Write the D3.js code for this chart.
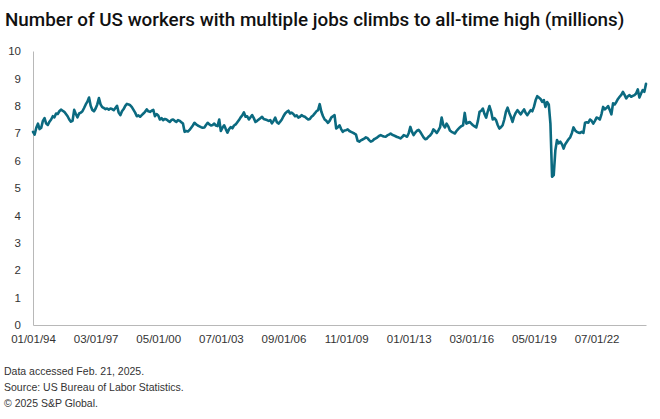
<!DOCTYPE html>
<html>
<head>
<meta charset="utf-8">
<script src="https://cdn.jsdelivr.net/npm/d3@7"></script>
<style>
  html, body { margin: 0; padding: 0; background: #fff; }
  svg { display: block; }
</style>
</head>
<body>
<svg id="chart" width="660" height="419"></svg>
<script>
// ---- Data (millions, monthly, Jan 1994 – Jan 2025) ----
const startYear = 1994;
const values1994 = [7.05, 6.95, 7.20, 7.35, 7.15, 7.20, 7.45, 7.55, 7.35, 7.30, 7.42, 7.50];
const values1995 = [7.62, 7.58, 7.72, 7.70, 7.80, 7.86, 7.82, 7.78, 7.70, 7.62, 7.50, 7.42];
const values1996 = [7.45, 7.85, 7.70, 7.58, 7.72, 7.75, 7.80, 7.92, 8.05, 8.15, 8.30, 8.00];
const values1997 = [7.85, 7.80, 7.90, 8.05, 8.28, 8.05, 7.95, 7.92, 7.88, 7.90, 7.86, 7.90];
const values1998 = [7.88, 7.84, 7.92, 8.00, 7.75, 7.66, 7.80, 7.88, 8.00, 8.07, 8.05, 8.02];
const values1999 = [7.95, 7.85, 7.75, 7.62, 7.65, 7.60, 7.66, 7.72, 7.78, 7.87, 7.80, 7.78];
const values2000 = [7.82, 7.85, 7.62, 7.70, 7.65, 7.50, 7.55, 7.48, 7.52, 7.50, 7.45, 7.41];
const values2001 = [7.48, 7.50, 7.45, 7.41, 7.48, 7.45, 7.40, 7.35, 7.05, 7.08, 7.06, 7.12];
const values2002 = [7.20, 7.28, 7.38, 7.32, 7.28, 7.25, 7.22, 7.20, 7.21, 7.30, 7.38, 7.32];
const values2003 = [7.28, 7.30, 7.35, 7.28, 7.26, 7.50, 7.08, 7.20, 7.29, 7.15, 7.02, 7.15];
const values2004 = [7.22, 7.18, 7.28, 7.32, 7.40, 7.48, 7.58, 7.65, 7.76, 7.60, 7.62, 7.50];
const values2005 = [7.58, 7.66, 7.55, 7.41, 7.45, 7.50, 7.55, 7.60, 7.52, 7.50, 7.48, 7.45];
const values2006 = [7.48, 7.36, 7.45, 7.57, 7.40, 7.35, 7.42, 7.50, 7.62, 7.72, 7.78, 7.82];
const values2007 = [7.72, 7.75, 7.70, 7.62, 7.65, 7.57, 7.60, 7.66, 7.62, 7.60, 7.55, 7.50];
const values2008 = [7.52, 7.60, 7.65, 7.72, 7.80, 7.84, 8.06, 7.78, 7.62, 7.50, 7.45, 7.38];
const values2009 = [7.45, 7.57, 7.62, 7.66, 7.17, 7.22, 7.29, 7.15, 7.05, 7.10, 7.11, 7.14];
const values2010 = [7.08, 7.05, 7.02, 6.99, 6.95, 6.72, 6.69, 6.74, 6.77, 6.80, 6.85, 6.82];
const values2011 = [6.75, 6.69, 6.72, 6.78, 6.81, 6.85, 6.90, 6.93, 6.90, 6.88, 6.87, 6.92];
const values2012 = [6.95, 6.99, 6.94, 6.92, 6.89, 6.86, 6.84, 6.81, 6.86, 6.93, 6.90, 6.87];
const values2013 = [7.00, 7.23, 7.05, 6.93, 7.02, 7.09, 7.12, 7.05, 6.95, 6.85, 6.78, 6.80];
const values2014 = [6.87, 6.92, 7.00, 7.14, 7.08, 7.01, 7.10, 7.21, 7.57, 7.30, 7.21, 7.35];
const values2015 = [7.25, 7.10, 7.05, 7.02, 6.99, 7.08, 7.15, 7.21, 7.26, 7.29, 7.74, 7.35];
const values2016 = [7.38, 7.41, 7.35, 7.29, 7.25, 7.21, 7.45, 7.78, 7.82, 7.90, 7.70, 7.57];
const values2017 = [7.80, 7.99, 7.80, 7.50, 7.55, 7.48, 7.30, 7.17, 7.22, 7.29, 7.50, 7.78];
const values2018 = [7.93, 7.75, 7.60, 7.41, 7.62, 7.75, 7.84, 7.76, 7.69, 7.78, 7.87, 7.74];
const values2019 = [7.66, 7.75, 7.84, 7.80, 7.96, 8.20, 8.35, 8.30, 8.25, 8.14, 8.21, 7.96];
const values2020 = [8.14, 8.05, 7.35, 5.41, 5.47, 6.38, 6.75, 6.63, 6.69, 6.60, 6.44, 6.60];
const values2021 = [6.69, 6.78, 6.85, 7.00, 7.21, 7.10, 7.05, 7.02, 7.01, 7.05, 7.01, 7.38];
const values2022 = [7.40, 7.38, 7.50, 7.45, 7.35, 7.45, 7.57, 7.55, 7.50, 7.70, 7.96, 7.87];
const values2023 = [7.92, 7.99, 7.85, 7.69, 8.09, 8.05, 8.14, 8.25, 8.33, 8.40, 8.51, 8.40];
const values2024 = [8.27, 8.35, 8.39, 8.33, 8.36, 8.39, 8.45, 8.60, 8.30, 8.45, 8.57, 8.51];
const values2025 = [8.80];

const yTickValues = [0, 1, 2, 3, 4, 5, 6, 7, 8, 9, 10];
const xTickLabels = ["01/01/94", "03/01/97", "05/01/00", "07/01/03", "09/01/06",
                     "11/01/09", "01/01/13", "03/01/16", "05/01/19", "07/01/22"];

const titleText = "Number of US workers with multiple jobs climbs to all-time high (millions)";
const footerLines = ["Data accessed Feb. 21, 2025.",
                     "Source: US Bureau of Labor Statistics.",
                     "\u00A9 2025 S&P Global."];

// ---- Build series ----
const allYears = [values1994, values1995, values1996, values1997, values1998, values1999,
  values2000, values2001, values2002, values2003, values2004, values2005, values2006,
  values2007, values2008, values2009, values2010, values2011, values2012, values2013,
  values2014, values2015, values2016, values2017, values2018, values2019, values2020,
  values2021, values2022, values2023, values2024, values2025];
const series = [];
allYears.forEach((arr, yi) => arr.forEach((v, m) => {
  series.push({ date: new Date(startYear + yi, m, 1), value: v });
}));
const fmt = d3.timeFormat("%m/%d/%y");

// ---- Layout ----
const svg = d3.select("#chart");
const margin = { left: 33, right: 14, top: 51, bottom: 94 };
const W = 660, H = 419;

const x = d3.scaleLinear()
  .domain([0, series.length - 1])
  .range([margin.left, W - margin.right]);
const y = d3.scaleLinear()
  .domain([0, 10])
  .range([H - margin.bottom, margin.top]);

const textColor = "#333333";
const fontFam = "'Liberation Sans', Arial, sans-serif";

// Title
const title = svg.append("text")
  .attr("x", 5).attr("y", 26)
  .attr("font-family", "Roboto, 'Liberation Sans', sans-serif")
  .attr("font-weight", 500)
  .attr("font-size", 17)
  .attr("fill", "#111")
  .text(titleText);
const tw = title.node().getComputedTextLength();
title.attr("font-size", 17 * 620 / tw);

// Y axis
const yAxis = d3.axisLeft(y).tickValues(yTickValues).tickSize(0).tickPadding(12)
  .tickFormat(d3.format("d"));
const gy = svg.append("g").attr("transform", `translate(${margin.left},0)`).call(yAxis);
gy.select(".domain").attr("stroke", "#b8b8b8").attr("stroke-width", 1);
gy.selectAll("text").attr("font-family", fontFam).attr("font-size", 11.5).attr("fill", textColor);

// X axis: category ticks every 38 months, labels from data dates
const tickIdx = d3.range(0, series.length, 38);
const labelSet = new Set(xTickLabels);
const xAxis = d3.axisBottom(x).tickValues(tickIdx.filter(i => labelSet.has(fmt(series[i].date))))
  .tickSize(0).tickPadding(10)
  .tickFormat(i => fmt(series[i].date));
const gx = svg.append("g").attr("transform", `translate(0,${H - margin.bottom})`).call(xAxis);
gx.select(".domain").attr("stroke", "#b8b8b8").attr("stroke-width", 1);
gx.selectAll("text").attr("font-family", fontFam).attr("font-size", 11.5).attr("fill", textColor);

// Line
const line = d3.line()
  .x((d, i) => x(i))
  .y(d => y(d.value))
  .curve(d3.curveLinear);
svg.append("path")
  .datum(series)
  .attr("fill", "none")
  .attr("stroke", "#0b6a80")
  .attr("stroke-width", 2.6)
  .attr("stroke-linejoin", "round")
  .attr("stroke-linecap", "round")
  .attr("d", line);

// Footer
svg.append("g").selectAll("text").data(footerLines).join("text")
  .attr("x", 4)
  .attr("y", (d, i) => 375 + i * 16)
  .attr("font-family", fontFam)
  .attr("font-size", 10.5)
  .attr("fill", textColor)
  .text(d => d);
</script>
</body>
</html>
